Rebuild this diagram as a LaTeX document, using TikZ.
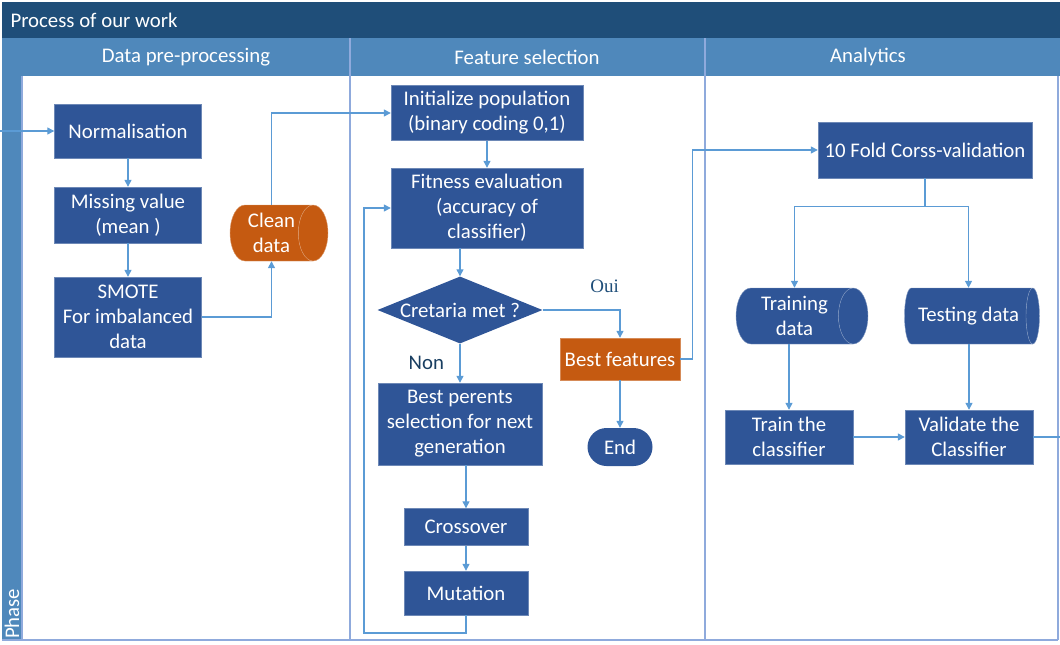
\documentclass[tikz,border=0pt]{standalone}
\usepackage{fontspec}
\setmainfont{Carlito}
\newfontfamily\ouifont{Liberation Serif}
\usetikzlibrary{positioning,arrows.meta,shapes.geometric,shapes.misc}
\definecolor{titleblue}{HTML}{1F4E79}
\definecolor{headblue}{HTML}{4F88BB}
\definecolor{boxblue}{HTML}{2F5597}
\definecolor{boxorange}{HTML}{C55A11}
\definecolor{flowblue}{HTML}{5B9BD5}
\definecolor{lanegray}{HTML}{8FAADC}
\def\bigfont{\fontsize{20.8}{25}\selectfont}

\begin{document}
\begin{tikzpicture}[>={Triangle[width=7pt,length=7pt]}, x=1pt, y=1pt,
  box/.style={rectangle, fill=boxblue, draw=boxblue!70!white, line width=0.4pt, text=white, align=center, inner sep=0pt, font=\bigfont},
  orangebox/.style={box, fill=boxorange, draw=boxorange!70!white},
  store/.style={cylinder, anchor=shape center, shape aspect=0.75, cylinder uses custom fill, cylinder body fill=boxblue, cylinder end fill=boxblue, draw=boxblue!60!white, line width=0.4pt, text=white, align=center, inner sep=0pt, font=\bigfont},
  flow/.style={draw=flowblue, line width=1.3pt},
  lane/.style={draw=lanegray, line width=1.3pt}]
\useasboundingbox (0pt, 0pt) rectangle (1060pt, -645pt);
% swimlane frame
\fill[titleblue] (2pt, -2pt) rectangle (1060pt, -38pt);
\fill[headblue] (2pt, -38pt) rectangle (1060pt, -76pt);
\fill[headblue] (2pt, -38pt) rectangle (22pt, -640pt);
\draw[lane] (22pt, -76pt) -- (22pt, -640pt);
\draw[lane] (350pt, -38pt) -- (350pt, -640pt);
\draw[lane] (705pt, -38pt) -- (705pt, -640pt);
\draw[lane] (1058pt, -76pt) -- (1058pt, -640pt);
\draw[lane] (2pt, -640pt) -- (1058pt, -640pt);
\draw (7pt, -20pt)node[anchor=west, text=white, font=\bigfont](title){Process of our work};
\draw (186pt, -57pt)node[text=white, font=\bigfont](lane1){Data pre-processing};
\draw (527pt, -57pt)node[text=white, font=\bigfont](lane2){Feature selection};
\draw (868pt, -57pt)node[text=white, font=\bigfont](lane3){Analytics};
\draw (12pt, -639pt)node[anchor=west, rotate=90, text=white, font=\bigfont, inner sep=0pt](phase){Phase};

% data pre-processing
\draw (128pt, -131pt)node[box, minimum width=147pt, minimum height=54pt](norm){Normalisation};
\draw (128pt, -215pt)node[box, minimum width=147pt, minimum height=56pt](miss){Missing value\\(mean )};
\draw (128pt, -317pt)node[box, minimum width=147pt, minimum height=80pt](smote){SMOTE\\For imbalanced\\data};
\draw (279pt, -233pt)node[store, cylinder body fill=boxorange, cylinder end fill=boxorange, draw=boxorange!60!white, minimum width=56pt, minimum height=98pt](clean){Clean\\data};

% feature selection
\draw (487pt, -113pt)node[box, minimum width=192pt, minimum height=55pt](init){Initialize population\\(binary coding 0,1)};
\draw (487pt, -208pt)node[box, minimum width=192pt, minimum height=80pt](fit){Fitness evaluation\\(accuracy of\\classifier)};
\draw (460pt, -310pt)node[diamond, aspect=2.46, fill=boxblue, text=white, font=\bigfont, inner sep=0pt, minimum width=165pt, minimum height=67pt](crit){Cretaria met ?};
\draw (460pt, -424pt)node[box, minimum width=164pt, minimum height=82pt](sel){Best perents\\selection for next\\generation};
\draw (466pt, -527pt)node[box, minimum width=124pt, minimum height=37pt](cross){Crossover};
\draw (466pt, -593pt)node[box, minimum width=124pt, minimum height=44pt](mut){Mutation};
\draw (620pt, -359pt)node[orangebox, minimum width=120pt, minimum height=42pt](best){Best features};
\draw (620pt, -447pt)node[rounded rectangle, fill=boxblue, text=white, font=\bigfont, inner sep=0pt, minimum width=65pt, minimum height=38pt](stop){End};

% analytics
\draw (925pt, -150pt)node[box, minimum width=214pt, minimum height=56pt](cv){10 Fold Corss-validation};
\draw (802pt, -316pt)node[store, minimum width=56pt, minimum height=132pt](train){Training\\data};
\draw (972pt, -316pt)node[store, minimum width=56pt, minimum height=135pt](test){Testing data};
\draw (789pt, -437pt)node[box, minimum width=128pt, minimum height=54pt](tcl){Train the\\classifier};
\draw (969pt, -437pt)node[box, minimum width=128pt, minimum height=54pt](val){Validate the\\Classifier};

\coordinate (in) at (0pt, -131pt);
\coordinate (loop) at (364pt, -633pt);
\coordinate (out) at (1060pt, -437pt);

\draw[flow, ->] (in) -- (norm);
\draw[flow, ->] (norm) -- (miss);
\draw[flow, ->] (miss) -- (smote);
\draw[flow, ->] (smote.east) -| (clean.south);
\draw[flow, ->] (clean.north) |- (init.west);
\draw[flow, ->] (init) -- (fit);
\draw[flow, ->] (crit.north |- fit.south) -- (crit.north);
\draw[flow, ->] (crit.east) -| node[pos=0.4, above=13pt, text=titleblue, font=\ouifont\fontsize{19}{22}\selectfont]{Oui} (best.north);
\draw[flow, ->] (crit.south) -- node[left=12pt, text=titleblue!80!black, font=\bigfont]{Non} (sel.north);
\draw[flow, ->] (cross.north |- sel.south) -- (cross.north);
\draw[flow, ->] (cross) -- (mut);
\draw[flow, ->] (mut.south) |- (loop) |- (fit.west);
\draw[flow, ->] (best) -- (stop);
\draw[flow, ->] (best.east) -- ++(12pt, 0pt) |- (cv.west);
\draw[flow, ->] (cv.south) -- ++(0pt, -28pt) -| (train.north);
\draw[flow, ->] (cv.south) -- ++(0pt, -28pt) -| (test.north);
\draw[flow, ->] (tcl.north |- train.south) -- (tcl.north);
\draw[flow, ->] (val.north |- test.south) -- (val.north);
\draw[flow, ->] (tcl) -- (val);
\draw[flow] (val.east) -- (out);
\end{tikzpicture}
\end{document}
